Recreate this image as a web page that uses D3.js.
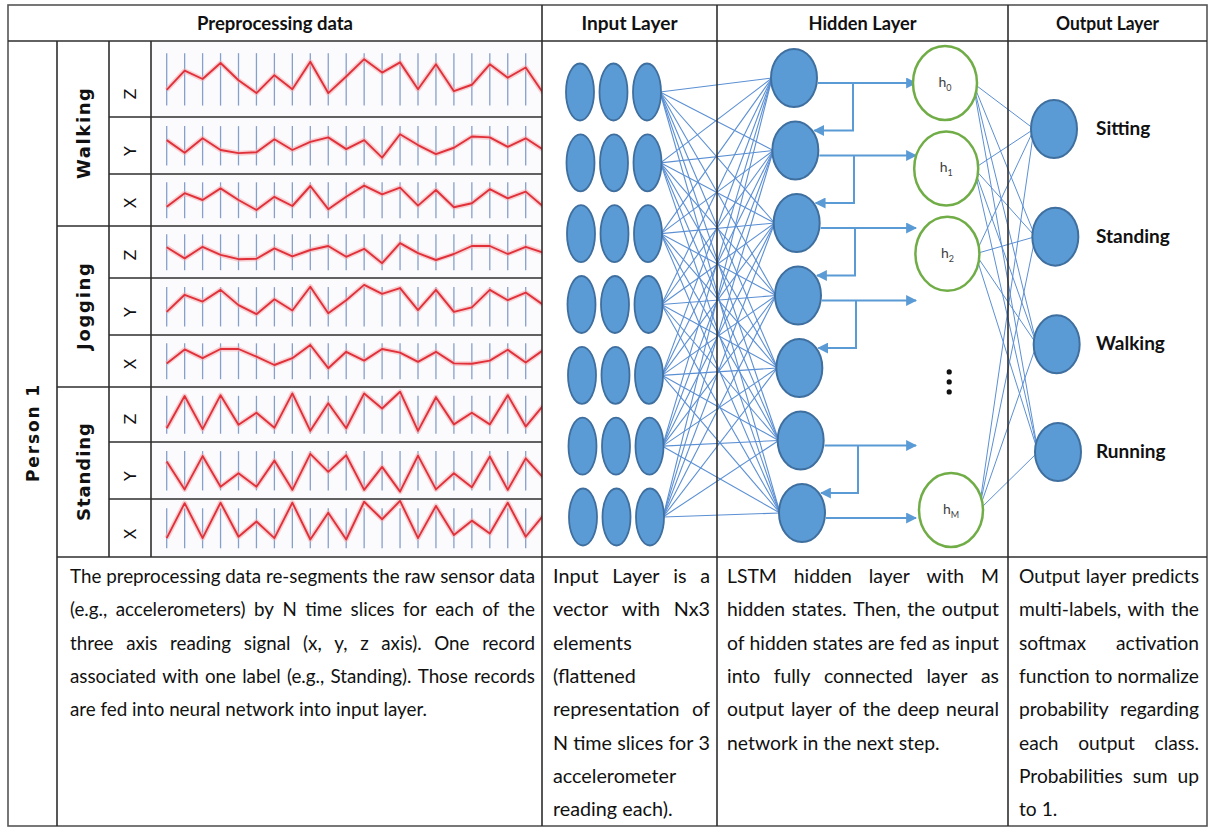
<!DOCTYPE html>
<html lang="en">
<head>
<meta charset="utf-8">
<title>LSTM activity recognition pipeline</title>
<script src="https://cdnjs.cloudflare.com/ajax/libs/d3/7.8.5/d3.min.js"></script>
<style>
  body { margin: 0; background: #fff; }
  text { font-family: Lato, "Open Sans", sans-serif; }
</style>
</head>
<body>
<script>
// ---- data ----
var headers = ["Preprocessing data", "Input Layer", "Hidden Layer", "Output Layer"];
var person = "Person 1";
var activities = ["Walking", "Jogging", "Standing"];
var axisNames = ["Z", "Y", "X"];

// signal samples per time slice (0..10 within each cell), last one runs past the cell edge
var walkingZ  = [3.3, 6.3, 5.0, 7.5, 4.8, 2.8, 5.6, 3.4, 7.7, 2.8, 5.4, 8.1, 6.0, 7.6, 3.4, 7.3, 3.1, 4.1, 7.3, 5.2, 6.8, 2.7];
var walkingY  = [6.2, 3.4, 6.6, 4.0, 3.3, 3.5, 6.4, 4.0, 5.8, 6.8, 4.2, 6.2, 2.3, 7.5, 5.1, 3.1, 4.5, 7.0, 6.8, 4.7, 6.6, 4.0];
var walkingX  = [3.3, 6.7, 5.0, 7.9, 5.0, 2.5, 5.8, 3.5, 8.5, 2.7, 5.8, 8.6, 6.4, 8.1, 3.6, 7.5, 3.2, 4.2, 7.7, 5.4, 7.1, 3.3];
var joggingZ  = [6.2, 3.4, 6.3, 4.3, 3.2, 3.3, 5.9, 3.9, 5.5, 6.5, 3.8, 5.8, 2.2, 7.2, 4.7, 3.0, 4.5, 6.5, 6.5, 4.5, 6.3, 4.8];
var joggingY  = [3.8, 7.6, 6.1, 8.7, 5.3, 3.3, 6.6, 4.1, 9.4, 3.5, 6.4, 9.8, 7.8, 9.1, 4.2, 8.7, 3.8, 4.8, 8.7, 6.4, 8.1, 5.3];
var joggingX  = [4.4, 7.9, 5.7, 8.0, 8.0, 6.1, 4.0, 5.7, 9.0, 3.2, 7.3, 5.1, 8.0, 7.1, 4.8, 7.3, 4.4, 4.3, 5.1, 7.8, 4.6, 7.8];
var standingZ = [1.8, 9.3, 1.6, 9.5, 2.6, 5.4, 1.9, 9.9, 1.2, 7.6, 1.8, 9.9, 6.4, 10.3, 1.2, 9.0, 2.7, 5.4, 2.7, 9.5, 2.2, 7.2];
var standingY = [7.0, 0.8, 8.2, 1.4, 4.4, 1.4, 7.2, 0.7, 8.7, 4.7, 8.4, 0.7, 5.8, 0.3, 8.3, 0.8, 4.4, 1.3, 8.1, 0.7, 7.7, 3.3];
var standingX = [2.8, 10.4, 2.8, 10.5, 3.1, 6.4, 2.8, 10.5, 2.5, 8.3, 2.5, 10.7, 6.9, 10.9, 2.8, 9.8, 3.5, 6.6, 3.8, 10.5, 3.1, 7.8];
var signals = [walkingZ, walkingY, walkingX, joggingZ, joggingY, joggingX, standingZ, standingY, standingX];

var inputRows = 7, inputCols = 3;
var hiddenUnits = 7;
var hiddenStates = ["0", "1", "2", "M"];
var stateSlots = [0, 1, 2, 5];          // M sits after the gap with the dots
var outputArrowsFrom = [0, 1, 2, 3, 5, 6];
var recurrentFrom = [0, 1, 2, 3, 5];     // unit i feeds back into unit i+1
var outputLabels = ["Sitting", "Standing", "Walking", "Running"];

var preText = ["The preprocessing data re-segments the raw sensor data",
  "(e.g., accelerometers) by N time slices for each of the",
  "three axis reading signal (x, y, z axis). One record",
  "associated with one label (e.g., Standing). Those records",
  "are fed into neural network into input layer."];
var inputText = ["Input Layer is a", "vector with Nx3", "elements", "(flattened",
  "representation of", "N time slices for 3", "accelerometer", "reading each)."];
var hiddenText = ["LSTM hidden layer with M", "hidden states. Then, the output",
  "of hidden states are fed as input", "into fully connected layer as",
  "output layer of the deep neural", "network in the next step."];
var outputText = ["Output layer predicts", "multi-labels, with the", "softmax activation",
  "function to normalize", "probability regarding", "each output class.",
  "Probabilities sum up", "to 1."];

// ---- layout ----
var W = 1209, H = 829;
var L = 8, R = 1207, T = 5, B = 826;
var headBottom = 41, netBottom = 557;
var cPerson = 57, cAct = 109, cAxis = 151, cPre = 542, cIn = 717, cHid = 1008;
var rowEdges = [41, 117, 174, 226, 278, 335, 387, 442, 499, 557];

var svg = d3.select("body").append("svg").attr("width", W).attr("height", H);
var defs = svg.append("defs");
defs.append("marker").attr("id", "arrow")
  .attr("viewBox", "0 0 10 10").attr("refX", 9).attr("refY", 5)
  .attr("markerUnits", "userSpaceOnUse").attr("markerWidth", 11).attr("markerHeight", 11)
  .attr("orient", "auto")
  .append("path").attr("d", "M0,0L10,5L0,10z").attr("fill", "#5b9bd5");

svg.append("rect").attr("width", W).attr("height", H).attr("fill", "#fff");

// ---- signal cells ----
var xSig = d3.scaleLinear().domain([0, 20]).range([166.7, 525.7]);
var sig = svg.append("g");
signals.forEach(function(vals, r) {
  var t = rowEdges[r], b = rowEdges[r + 1], h = b - t;
  var y = d3.scaleLinear().domain([0, 10]).range([b - 6, t + 6]);
  defs.append("clipPath").attr("id", "clip" + r)
    .append("rect").attr("x", cAxis).attr("y", t).attr("width", cPre - cAxis).attr("height", h);
  var g = sig.append("g").attr("clip-path", "url(#clip" + r + ")");
  g.append("rect").attr("x", cAxis).attr("y", t).attr("width", cPre - cAxis).attr("height", h)
    .attr("fill", "#fbfbfd");
  g.selectAll("line.tick").data(d3.range(21)).enter().append("line")
    .attr("x1", function(d) { return xSig(d); }).attr("x2", function(d) { return xSig(d); })
    .attr("y1", t + h * 0.16).attr("y2", b - h * 0.15)
    .attr("stroke", "#86a0cc").attr("stroke-width", 1.3);
  var line = d3.line().x(function(d, i) { return xSig(i); }).y(function(d) { return y(d); });
  g.append("path").attr("d", line(vals)).attr("fill", "none")
    .attr("stroke", "#f6a9ad").attr("stroke-opacity", 0.55).attr("stroke-width", 5)
    .attr("stroke-linejoin", "round");
  g.append("path").attr("d", line(vals)).attr("fill", "none")
    .attr("stroke", "#e0313a").attr("stroke-width", 1.9).attr("stroke-linejoin", "round");
  // axis letter, rotated
  var ly = b - 23;
  svg.append("text").attr("transform", "translate(" + ((cAct + cAxis) / 2 + 6) + "," + ly + ") rotate(-90)")
    .attr("text-anchor", "middle").style("font-family", "DejaVu Sans")
    .style("font-size", "16px").attr("fill", "#111").text(axisNames[r % 3]);
});

// activity + person labels
var actSpan = [91, 87, 98];
activities.forEach(function(a, i) {
  var t = rowEdges[i * 3], b = rowEdges[i * 3 + 3];
  svg.append("text").attr("transform", "translate(" + ((cPerson + cAct) / 2 + 7) + "," + ((t + b) / 2) + ") rotate(-90)")
    .attr("text-anchor", "middle").style("font-family", "DejaVu Sans").style("font-weight", "bold")
    .style("font-size", "18px").attr("textLength", actSpan[i]).attr("lengthAdjust", "spacing")
    .attr("fill", "#111").text(a);
});
svg.append("text").attr("transform", "translate(" + ((L + cPerson) / 2 + 6) + "," + ((headBottom + B) / 2) + ") rotate(-90)")
  .attr("text-anchor", "middle").style("font-family", "DejaVu Sans").style("font-weight", "bold")
  .style("font-size", "17px").attr("textLength", 97).attr("lengthAdjust", "spacing")
  .attr("fill", "#111").text(person);

// ---- network ----
var net = svg.append("g");
var inX = d3.scaleLinear().domain([0, inputCols - 1]).range([580, 647]);
var inY = d3.scaleLinear().domain([0, inputRows - 1]).range([92, 517]);
var hidX = d3.scaleLinear().domain([0, hiddenUnits - 1]).range([794, 802]);
var hidY = d3.scaleLinear().domain([0, hiddenUnits - 1]).range([78, 513]);
var stX = d3.scaleLinear().domain([0, 5]).range([945, 951]);
var stY = d3.scaleLinear().domain([0, 5]).range([83, 510]);
var outX = d3.scaleLinear().domain([0, 3]).range([1054, 1058]);
var outY = d3.scaleLinear().domain([0, 3]).range([129, 452]);

var links = [];
d3.range(inputRows).forEach(function(i) {
  d3.range(hiddenUnits).forEach(function(j) { links.push([i, j]); });
});
net.selectAll("line.in").data(links).enter().append("line")
  .attr("x1", function(d) { return inX(2) + 0.5 * d[0] + 13; })
  .attr("y1", function(d) { return inY(d[0]); })
  .attr("x2", function(d) { return hidX(d[1]) - 22; })
  .attr("y2", function(d) { return hidY(d[1]); })
  .attr("stroke", "#5b8fd3").attr("stroke-width", 1.1);

var links2 = [];
stateSlots.forEach(function(s) { d3.range(4).forEach(function(o) { links2.push([s, o]); }); });
net.selectAll("line.out").data(links2).enter().append("line")
  .attr("x1", function(d) { return stX(d[0]) + 28; })
  .attr("y1", function(d) { return stY(d[0]); })
  .attr("x2", function(d) { return outX(d[1]) - 20; })
  .attr("y2", function(d) { return outY(d[1]); })
  .attr("stroke", "#5b8fd3").attr("stroke-width", 1);

// input ellipses
var cells = [];
d3.range(inputRows).forEach(function(i) { d3.range(inputCols).forEach(function(c) { cells.push([i, c]); }); });
net.selectAll("ellipse.in").data(cells).enter().append("ellipse")
  .attr("cx", function(d) { return inX(d[1]) + 0.5 * d[0]; })
  .attr("cy", function(d) { return inY(d[0]); })
  .attr("rx", 14).attr("ry", 28.5)
  .attr("fill", "#5b9bd5").attr("stroke", "#3f6f9f").attr("stroke-width", 1.8);

// arrows from hidden units
net.selectAll("path.fwd").data(outputArrowsFrom).enter().append("path")
  .attr("d", function(i) { var y = hidY(i) + 5; return "M" + (hidX(i) + 24) + "," + y + "H" + 916; })
  .attr("fill", "none").attr("stroke", "#5b9bd5").attr("stroke-width", 2).attr("marker-end", "url(#arrow)");
net.selectAll("path.rec").data(recurrentFrom).enter().append("path")
  .attr("d", function(i) {
    var y0 = hidY(i) + 5, y1 = hidY(i + 1) - 20, x = 853 + i;
    return "M" + x + "," + y0 + "V" + y1 + "H" + (hidX(i + 1) + 19);
  })
  .attr("fill", "none").attr("stroke", "#5b9bd5").attr("stroke-width", 2).attr("marker-end", "url(#arrow)");

// hidden units
net.selectAll("ellipse.hid").data(d3.range(hiddenUnits)).enter().append("ellipse")
  .attr("cx", function(d) { return hidX(d); }).attr("cy", function(d) { return hidY(d); })
  .attr("rx", 23).attr("ry", 29)
  .attr("fill", "#5b9bd5").attr("stroke", "#3f6f9f").attr("stroke-width", 2);

// hidden states
var st = net.selectAll("g.state").data(hiddenStates).enter().append("g")
  .attr("transform", function(d, i) { return "translate(" + stX(stateSlots[i]) + "," + stY(stateSlots[i]) + ")"; });
st.append("ellipse").attr("rx", 32).attr("ry", 37)
  .attr("fill", "#fff").attr("stroke", "#70ad47").attr("stroke-width", 2.5);
var lab = st.append("text").attr("text-anchor", "middle").attr("y", 4)
  .style("font-size", "14px").attr("fill", "#404040");
lab.append("tspan").text("h");
lab.append("tspan").attr("dy", 4).style("font-size", "9px").text(function(d) { return d; });
net.selectAll("circle.dot").data([-1, 0, 1]).enter().append("circle")
  .attr("cx", stX(3.5)).attr("cy", function(d) { return stY(3.5) + d * 10; })
  .attr("r", 2.6).attr("fill", "#111");

// output units
net.selectAll("ellipse.out").data(outputLabels).enter().append("ellipse")
  .attr("cx", function(d, i) { return outX(i); }).attr("cy", function(d, i) { return outY(i); })
  .attr("rx", 23).attr("ry", 29)
  .attr("fill", "#5b9bd5").attr("stroke", "#3f6f9f").attr("stroke-width", 2);
net.selectAll("text.out").data(outputLabels).enter().append("text")
  .attr("x", 1096).attr("y", function(d, i) { return outY(i) + 6; })
  .style("font-weight", "bold").style("font-size", "19px").attr("fill", "#111")
  .text(function(d) { return d; });

// ---- table grid ----
var grid = svg.append("g").attr("stroke", "#2e2e2e").attr("stroke-width", 1.6).attr("fill", "none");
grid.append("rect").attr("x", L).attr("y", T).attr("width", R - L).attr("height", B - T).attr("stroke", "#555");
grid.append("line").attr("x1", L).attr("x2", R).attr("y1", headBottom).attr("y2", headBottom);
[cPre, cIn, cHid].forEach(function(x) {
  grid.append("line").attr("x1", x).attr("x2", x).attr("y1", T).attr("y2", B);
});
grid.append("line").attr("x1", cPerson).attr("x2", cPerson).attr("y1", headBottom).attr("y2", B);
[cAct, cAxis].forEach(function(x) {
  grid.append("line").attr("x1", x).attr("x2", x).attr("y1", headBottom).attr("y2", netBottom);
});
rowEdges.slice(1, -1).forEach(function(y, i) {
  var x0 = ((i + 1) % 3 === 0) ? cPerson : cAct;
  grid.append("line").attr("x1", x0).attr("x2", cPre).attr("y1", y).attr("y2", y);
});
grid.append("line").attr("x1", cPerson).attr("x2", R).attr("y1", netBottom).attr("y2", netBottom);

// headers
var headCenters = [(L + cPre) / 2, (cPre + cIn) / 2, (cIn + cHid) / 2, (cHid + R) / 2];
var headWidths = [156, 96, 108, 103];
svg.selectAll("text.head").data(headers).enter().append("text")
  .attr("x", function(d, i) { return headCenters[i]; }).attr("y", 30)
  .attr("text-anchor", "middle").style("font-weight", "bold").style("font-size", "19px")
  .attr("textLength", function(d, i) { return headWidths[i]; }).attr("lengthAdjust", "spacingAndGlyphs")
  .attr("fill", "#111").text(function(d) { return d; });

// ---- justified description text ----
var paras = [
  {lines: preText, x0: cPerson + 13, x1: cPre - 7},
  {lines: inputText, x0: cPre + 11, x1: cIn - 7},
  {lines: hiddenText, x0: cIn + 10, x1: cHid - 9},
  {lines: outputText, x0: cHid + 11, x1: R - 8}
];
var fs = 20, lineH = 33.3;
var meas = svg.append("g").style("font-size", fs + "px");
function wlen(s) { var t = meas.append("text").text(s); var w = t.node().getComputedTextLength(); t.remove(); return w; }
var spaceW = wlen("n n") - wlen("nn");
paras.forEach(function(p) {
  p.k = 1;
  p.rows = p.lines.map(function(s) {
    var words = s.split(" ");
    var ws = words.map(wlen);
    var need = d3.sum(ws) + spaceW * (words.length - 1);
    p.k = Math.min(p.k, (p.x1 - p.x0) / need);
    return {words: words, ws: ws};
  });
});
meas.remove();
var body = svg.append("g").style("font-size", fs + "px").attr("fill", "#111");
paras.forEach(function(p) {
  var k = p.k;
  p.rows.forEach(function(row, li) {
    var n = row.words.length;
    var last = li === p.rows.length - 1;
    var sumW = d3.sum(row.ws) * k;
    var gap = (!last && n > 1) ? (p.x1 - p.x0 - sumW) / (n - 1) : spaceW * k;
    var x = p.x0, y = netBottom + 26 + li * lineH;
    row.words.forEach(function(w, wi) {
      body.append("text").attr("transform", "translate(" + x + "," + y + ") scale(" + k + ",1)").text(w);
      x += row.ws[wi] * k + gap;
    });
  });
});
</script>
</body>
</html>
